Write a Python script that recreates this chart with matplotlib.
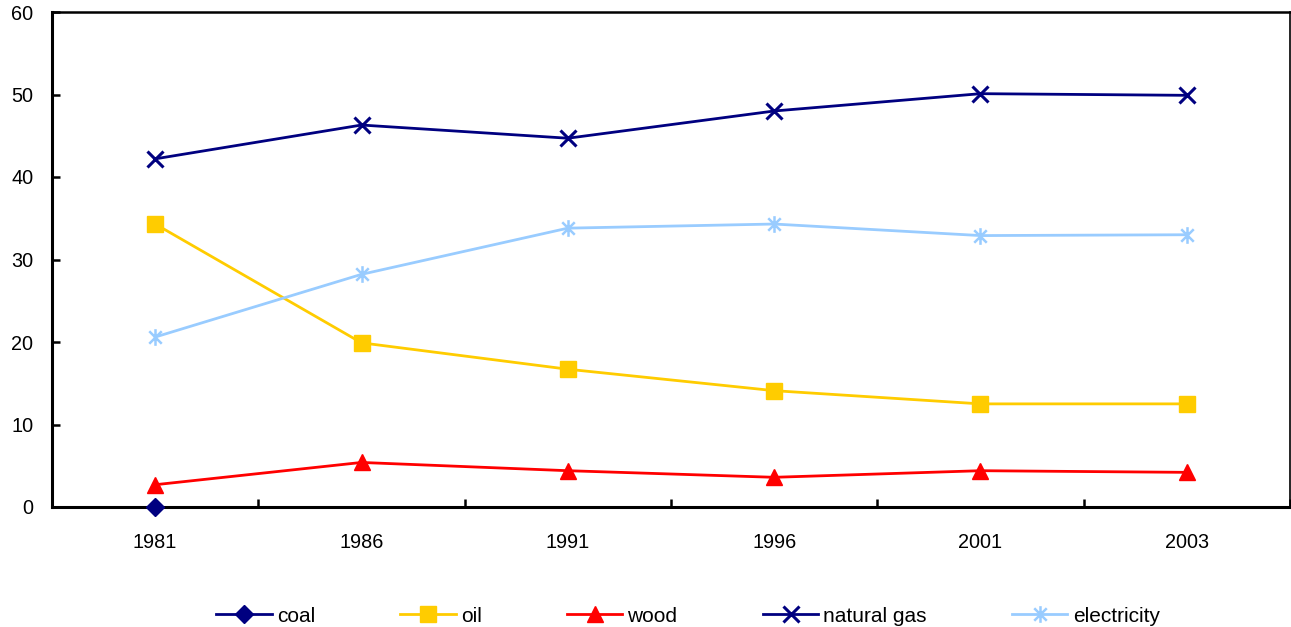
import numpy as np
import matplotlib
matplotlib.use("Agg")
import matplotlib.pyplot as plt
from matplotlib.path import Path
from matplotlib.ticker import FixedLocator, NullFormatter

plt.rcParams['font.family'] = ['Liberation Sans', 'DejaVu Sans']

years = ['1981', '1986', '1991', '1996', '2001', '2003']
coal = [0.0, np.nan, np.nan, np.nan, np.nan, np.nan]
oil = [34.3, 19.9, 16.7, 14.1, 12.5, 12.5]
wood = [2.7, 5.4, 4.4, 3.6, 4.4, 4.2]
natural_gas = [42.2, 46.3, 44.7, 48.0, 50.1, 49.9]
electricity = [20.6, 28.2, 33.8, 34.3, 32.9, 33.0]

# Excel-style asterisk: vertical bar plus an X
star = Path([(0, -1), (0, 1), (-0.75, -0.75), (0.75, 0.75), (-0.75, 0.75), (0.75, -0.75)],
            [Path.MOVETO, Path.LINETO, Path.MOVETO, Path.LINETO, Path.MOVETO, Path.LINETO])

series = [
    ('coal', coal, '#000080', 'D', 9.5),
    ('oil', oil, '#FFCC00', 's', 11),
    ('wood', wood, '#FF0000', '^', 11.5),
    ('natural gas', natural_gas, '#000080', 'x', 11),
    ('electricity', electricity, '#99CCFF', star, 12),
]

fig = plt.figure(figsize=(12.91, 6.27), dpi=100)
ax = fig.add_axes([52/1291, 120/627, 1238/1291, 495/627])

x = np.arange(len(years))
handles = []
for name, vals, col, mk, ms in series:
    if mk is star:
        h, = ax.plot(x, vals, color=col, lw=2.0, marker=mk, ms=ms,
                     mec=col, mfc='none', mew=1.8, label=name, clip_on=False, zorder=3)
    elif mk == 'x':
        h, = ax.plot(x, vals, color=col, lw=2.0, marker='x', ms=ms,
                     mec=col, mew=2.2, label=name, clip_on=False, zorder=3)
    else:
        h, = ax.plot(x, vals, color=col, lw=2.0, marker=mk, ms=ms,
                     mec=col, mfc=col, label=name, clip_on=False, zorder=3)
    handles.append(h)

ax.set_xlim(-0.5, len(years) - 0.5)
ax.set_ylim(0, 60)
ax.set_yticks(np.arange(0, 61, 10))
ax.xaxis.set_major_locator(FixedLocator(np.arange(-0.5, len(years), 1.0)))
ax.xaxis.set_major_formatter(NullFormatter())
ax.xaxis.set_minor_locator(FixedLocator(x))
ax.set_xticklabels(years, minor=True)

ax.tick_params(axis='x', which='major', direction='in', length=6, width=1.8)
ax.tick_params(axis='x', which='minor', length=0, pad=18.5, labelsize=14.3)
ax.tick_params(axis='y', direction='in', length=6, width=1.8, pad=13.5, labelsize=14.3)

ax.spines['left'].set_linewidth(2.2)
ax.spines['bottom'].set_linewidth(2.2)
ax.spines['top'].set_linewidth(1.8)
ax.spines['right'].set_linewidth(1.2)

fig.legend(handles=handles, loc='center', bbox_to_anchor=(688/1291, 11/627),
           ncol=5, frameon=False, fontsize=15, handlelength=2.65,
           handletextpad=0.25, columnspacing=4.1)

fig.savefig('out.png', dpi=100)
